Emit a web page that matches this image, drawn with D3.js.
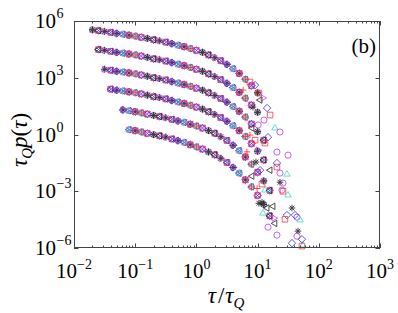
<!DOCTYPE html>
<html><head><meta charset="utf-8">
<script src="https://cdn.jsdelivr.net/npm/d3@7"></script>
<style>body{margin:0;background:#fff}svg{display:block}text{font-family:"Liberation Serif","Times New Roman",Times,"DejaVu Serif",serif}</style>
</head><body><svg id="c" width="398" height="313"></svg>
<script>
// ---- data ----
const tauGrid = [0.02,0.0251,0.0316,0.0398,0.0501,0.0631,0.0794,0.1,0.126,0.158,0.2,0.251,0.316,0.398,0.501,0.631,0.794,1,1.26,1.58,2.0,2.51,3.16,3.98,5.01,6.31,7.94,10,12.6,15.8];
const curveStart = [0,1,2,3,5,6];
const curve1 = [3.4e5,3.1e5,2.8e5,2.5e5,2.2e5,2.0e5,1.78e5,1.58e5,1.38e5,1.2e5,1.02e5,8.9e4,7.6e4,6.3e4,5.2e4,4.4e4,3.5e4,2.8e4,2.2e4,1.6e4,1.15e4,7.9e3,5.1e3,3.0e3,1.7e3,8.3e2,3.8e2,1.6e2];
const curve2 = [3.1e4,2.8e4,2.5e4,2.2e4,2.0e4,1.8e4,1.6e4,1.4e4,1.2e4,1.0e4,8.9e3,7.6e3,6.3e3,5.2e3,4.4e3,3.5e3,2.8e3,2.2e3,1.6e3,1.15e3,7.9e2,5.1e2,3.0e2,1.7e2,83,36,15];
const curve3 = [2.8e3,2.5e3,2.2e3,2.0e3,1.8e3,1.6e3,1.4e3,1.2e3,1.0e3,890,760,630,520,440,350,280,220,160,115,79,51,30,17,8.3,3.6,1.4,0.5];
const curve4 = [250,220,200,180,160,140,120,100,89,76,63,52,44,35,28,22,16,11.5,7.8,5.0,2.9,1.6,0.78,0.33,0.13,0.045];
const curve5 = [20,18,16,13.8,12,10.2,8.9,7.6,6.3,5.2,4.4,3.5,2.8,2.2,1.6,1.15,0.76,0.48,0.27,0.14,0.065,0.027,0.01,3.5e-3,1.1e-3];
const curve6 = [1.8,1.6,1.35,1.15,0.98,0.85,0.72,0.58,0.47,0.38,0.29,0.22,0.17,0.12,0.085,0.055,0.033,0.018,0.009,0.004,0.0017,6e-4,2e-4,5e-5];
const curves = [curve1,curve2,curve3,curve4,curve5,curve6];

const tailTau = [7.5,10.5,12.2,14.3,16,9.1,11,8.4,5.8,19.2,23.2,14.8,13.2,20.7,31.4,20.7,30.2,23.2,26,25,26,31.4,36.5,30.2,44,49.3,28,19.2,14.8,20.7,45.7,44,36.5,53,55,53,17.9,16,11.8,12.2,18.5,10.5,14.3,20.7,23.2,10.2,40.8,12.7,6.7,7.5,8.1,9.1,10.2,9.4,11,8.1,11.8,9.8,13.2];
const tailP = [590,155,85,25,10.7,410,66,28,224,2.2,1.35,0.72,0.35,0.118,0.081,0.019,0.0079,0.003,0.0027,0.00115,0.001,6.2e-4,1.3e-4,5.5e-5,4.3e-5,3e-5,3.3e-5,2e-5,1.26e-5,4.8e-6,7.8e-6,4.2e-6,1.8e-6,1.26e-6,1.4e-6,2.9e-6,1.6e-4,0.013,2.6e-4,6.9e-5,3.8e-5,2.3e-4,1.3e-4,0.031,0.0091,3.2,5.5e-5,5.8,0.12,0.93,2.2,0.5,0.15,0.035,0.013,0.0063,0.0024,0.0014,0.00115];
const tailKind = ["square","square","triRight","diamond","square","diamond","triLeft","asterisk","plus","triUp","circle","diamond","square","circle","circle","square","triUp","asterisk","circle","circle","square","triUp","asterisk","diamond","circle","triUp","square","triLeft","circle","circle","asterisk","circle","diamond","square","triUp","diamond","triLeft","triLeft","asterisk","triUp","triRight","asterisk","triLeft","diamond","circle","circle","diamond","circle","plus","plus","triLeft","square","triRight","asterisk","diamond","triLeft","square","plus","triUp"];

const xTicks = [1e-2,1e-1,1,10,100,1000];
const xTickExp = ["\u22122","\u22121","0","1","2","3"];
const yTicks = [1e-6,1e-3,1,1e3,1e6];
const yTickExp = ["\u22126","\u22123","0","3","6"];

const seriesNames = ["circle","diamond","triUp","square","plus","cross","asterisk","triLeft","triRight"];
const seriesColors = {circle:"#b43cf5",diamond:"#2b2bff",triUp:"#3ad8c8",square:"#ff3535",plus:"#ff1f1f",cross:"#3a3aff",asterisk:"#111",triLeft:"#222",triRight:"#c24cf2"};

// ---- layout ----
const svg = d3.select("#c");
const L = 74, R = 380, T = 21, B = 248;
const x = d3.scaleLog().domain([1e-2,1e3]).range([L,R]);
const y = d3.scaleLog().domain([1e-6,1e6]).range([B,T]);

function markerPath(kind){
  switch(kind){
    case "circle": {const r=3.1; return `M${-r},0a${r},${r} 0 1,0 ${2*r},0a${r},${r} 0 1,0 ${-2*r},0Z`;}
    case "diamond": {const r=3.7; return `M0,${-r}L${r},0L0,${r}L${-r},0Z`;}
    case "triUp": {const r=3.7; return `M0,${-r}L${r*0.87},${r*0.5}L${-r*0.87},${r*0.5}Z`;}
    case "square": {const r=2.8; return `M${-r},${-r}h${2*r}v${2*r}h${-2*r}Z`;}
    case "plus": {const r=3.3; return `M${-r},0h${2*r}M0,${-r}v${2*r}`;}
    case "cross": {const r=2.6; return `M${-r},${-r}L${r},${r}M${-r},${r}L${r},${-r}`;}
    case "asterisk": {const r=3.3, q=2.4; return `M${-r},0h${2*r}M0,${-r}v${2*r}M${-q},${-q}L${q},${q}M${-q},${q}L${q},${-q}`;}
    case "triLeft": {const r=3.7; return `M${-r},0L${r*0.5},${-r*0.87}L${r*0.5},${r*0.87}Z`;}
    case "triRight": {const r=3.7; return `M${r},0L${-r*0.5},${-r*0.87}L${-r*0.5},${r*0.87}Z`;}
  }
}

// build point list (series interleaved along each curve)
const pts = [];
curves.forEach((vals,c)=>{
  vals.forEach((v,i)=>{
    const t = tauGrid[curveStart[c]+i];
    [0,2,4,6].forEach(o=>{
      const k = seriesNames[(i+c+o)%9];
      pts.push({t, p:v, kind:k});
    });
  });
});
tailTau.forEach((t,i)=>pts.push({t, p:tailP[i], kind:tailKind[i]}));

svg.append("g").selectAll("path").data(pts).join("path")
  .attr("transform",d=>`translate(${x(d.t).toFixed(2)},${y(d.p).toFixed(2)})`)
  .attr("d",d=>markerPath(d.kind))
  .attr("fill","none")
  .attr("stroke",d=>seriesColors[d.kind])
  .attr("stroke-width",0.8);
svg.append("g").selectAll("circle").data(pts.filter(d=>d.kind==="asterisk")).join("circle")
  .attr("cx",d=>x(d.t)).attr("cy",d=>y(d.p)).attr("r",1.2).attr("fill","#444");

// ---- axes frame ----
const axisColor = "#444";
const g = svg.append("g").attr("stroke",axisColor).attr("fill","none");
g.append("rect").attr("x",L+0.5).attr("y",T+0.5).attr("width",R-L-1).attr("height",B-T-1).attr("stroke-width",1);

const xMinor = [];
for(let e=-2;e<3;e++) for(let m=2;m<=9;m++) xMinor.push(m*Math.pow(10,e));
xMinor.forEach(v=>{
  const px = Math.round(x(v))+0.5;
  g.append("line").attr("x1",px).attr("x2",px).attr("y1",B).attr("y2",B-2.5);
  g.append("line").attr("x1",px).attr("x2",px).attr("y1",T).attr("y2",T+2.5);
});
xTicks.forEach(v=>{
  const px = Math.round(x(v))+0.5;
  g.append("line").attr("x1",px).attr("x2",px).attr("y1",B).attr("y2",B-4.5);
  g.append("line").attr("x1",px).attr("x2",px).attr("y1",T).attr("y2",T+4.5);
});
yTicks.forEach(v=>{
  const py = Math.round(y(v))+0.5;
  g.append("line").attr("x1",L).attr("x2",L+4.5).attr("y1",py).attr("y2",py);
  g.append("line").attr("x1",R).attr("x2",R-4.5).attr("y1",py).attr("y2",py);
});

// x tick labels
xTicks.forEach((v,i)=>{
  const t = svg.append("text").attr("x",x(v)).attr("y",278).attr("text-anchor","middle")
    .attr("font-size",21).attr("fill","#000");
  t.append("tspan").text("10");
  t.append("tspan").attr("dy",-9).attr("font-size",14).text(xTickExp[i]);
});
// y tick labels
yTicks.forEach((v,i)=>{
  const py = y(v);
  svg.append("text").attr("x",56).attr("y",py+7).attr("text-anchor","end")
    .attr("font-size",21).attr("fill","#000").text("10");
  svg.append("text").attr("x",56.5).attr("y",py-3).attr("text-anchor","start")
    .attr("font-size",14).attr("fill","#000").text(yTickExp[i]);
});

// axis titles
const xl = svg.append("text").attr("x",226).attr("y",303).attr("text-anchor","middle")
  .attr("font-size",23).attr("fill","#000");
xl.append("tspan").attr("font-style","italic").text("\u03c4");
xl.append("tspan").attr("dx",2).text("/");
xl.append("tspan").attr("dx",1).attr("font-style","italic").text("\u03c4");
xl.append("tspan").attr("dy",5).attr("font-size",15).attr("font-style","italic").text("Q");

const yl = svg.append("text").attr("transform","translate(27,140) rotate(-90)").attr("text-anchor","middle")
  .attr("font-size",23).attr("fill","#000");
yl.append("tspan").attr("font-style","italic").text("\u03c4");
yl.append("tspan").attr("dy",5).attr("font-size",15).attr("font-style","italic").text("Q");
yl.append("tspan").attr("dy",-5).attr("font-style","italic").text("p");
yl.append("tspan").text("(");
yl.append("tspan").attr("font-style","italic").text("\u03c4");
yl.append("tspan").text(")");

// panel label
svg.append("text").attr("x",376).attr("y",53).attr("text-anchor","end")
  .attr("font-size",21).attr("fill","#000").text("(b)");
</script></body></html>
